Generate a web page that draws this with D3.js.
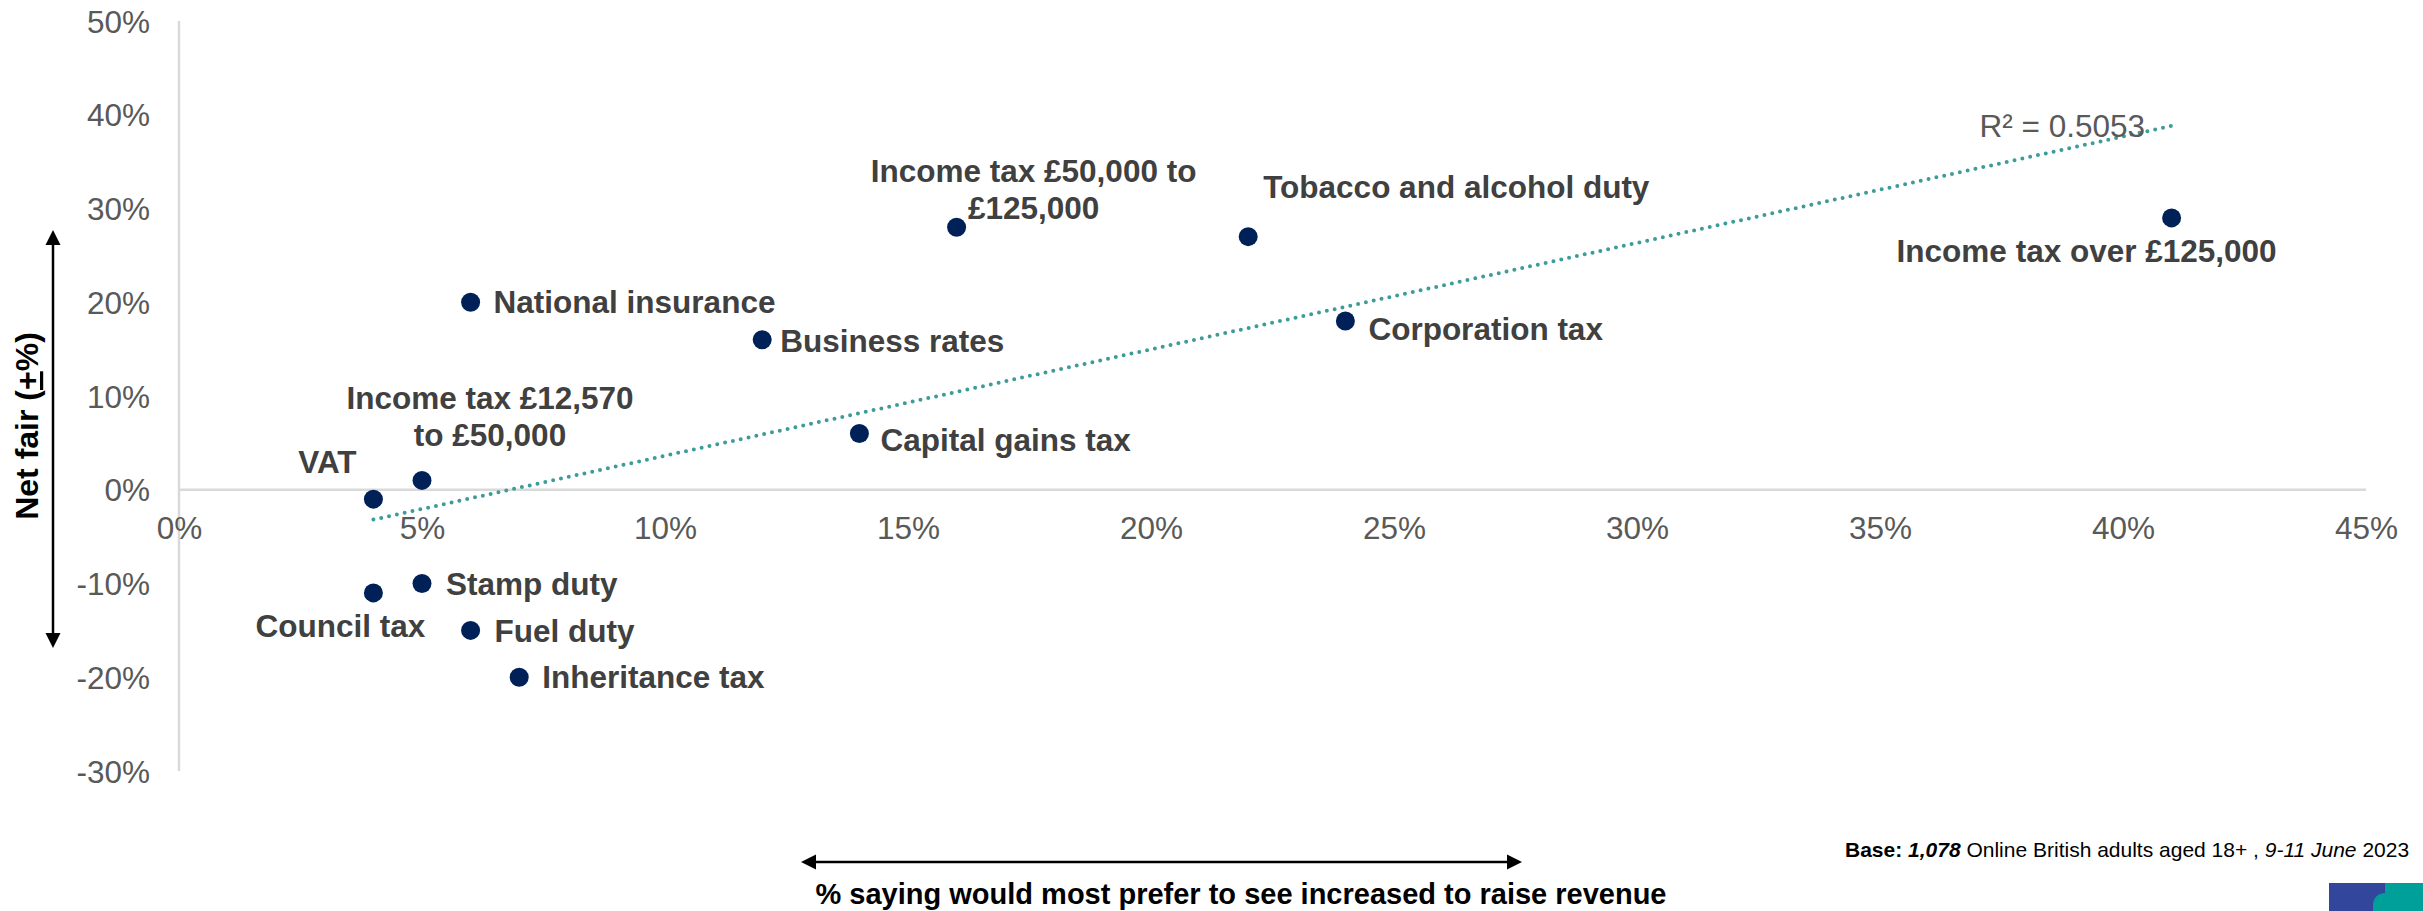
<!DOCTYPE html>
<html>
<head>
<meta charset="utf-8">
<script src="https://cdn.jsdelivr.net/npm/d3@7"></script>
<style>
  html, body { margin: 0; padding: 0; background: #fff; overflow: hidden; }
  svg { display: block; font-family: "Liberation Sans", Arial, sans-serif; }
</style>
</head>
<body>
<svg id="chart" width="2423" height="911"></svg>
<script>
// ---------------- DATA ----------------
const categories = [
  "VAT",
  "Income tax £12,570\nto £50,000",
  "Council tax",
  "Stamp duty",
  "Fuel duty",
  "Inheritance tax",
  "National insurance",
  "Business rates",
  "Capital gains tax",
  "Income tax £50,000 to\n£125,000",
  "Tobacco and alcohol duty",
  "Corporation tax",
  "Income tax over £125,000"
];
// % saying would most prefer to see increased to raise revenue
const preferIncrease = [4, 5, 4, 5, 6, 7, 6, 12, 14, 16, 22, 24, 41];
// Net fair (+/-%)
const netFair = [-1, 1, -11, -10, -15, -20, 20, 16, 6, 28, 27, 18, 29];

const xTickValues = [0, 5, 10, 15, 20, 25, 30, 35, 40, 45];
const yTickValues = [-30, -20, -10, 0, 10, 20, 30, 40, 50];

const xAxisTitle = "% saying would most prefer to see increased to raise revenue";
const baseNote = [
  {t: "Base: ", w: "bold", s: "normal"},
  {t: "1,078", w: "bold", s: "italic"},
  {t: " Online British adults aged 18+ , ", w: "normal", s: "normal"},
  {t: "9-11 June", w: "normal", s: "italic"},
  {t: " 2023", w: "normal", s: "normal"}
];

// label placement (pixel offsets from each point; layout only)
const labelLayout = [
  {anchor: "middle", dx: -46, dy: [-26]},
  {anchor: "middle", dx: 68, dy: [-71, -34]},
  {anchor: "middle", dx: -33, dy: [44]},
  {anchor: "start", dx: 24, dy: [11]},
  {anchor: "start", dx: 24, dy: [12]},
  {anchor: "start", dx: 23, dy: [11]},
  {anchor: "start", dx: 23, dy: [11]},
  {anchor: "start", dx: 18, dy: [12]},
  {anchor: "start", dx: 21, dy: [17]},
  {anchor: "middle", dx: 77, dy: [-45, -8]},
  {anchor: "start", dx: 15, dy: [-39]},
  {anchor: "start", dx: 23, dy: [19]},
  {anchor: "end", dx: 105, dy: [44]}
];

// ---------------- CHART ----------------
const svg = d3.select("#chart");
const x = d3.scaleLinear().domain([0, 45]).range([179, 2366]);
const y = d3.scaleLinear().domain([-30, 50]).range([771, 21]);

const gridColor = "#d9d9d9";
const tickColor = "#595959";
const labelColor = "#404040";
const dotColor = "#002157";
const trendColor = "#3d9c99";

// vertical value axis line
svg.append("line")
  .attr("x1", x(0)).attr("x2", x(0))
  .attr("y1", y(50)).attr("y2", y(-30))
  .attr("stroke", gridColor).attr("stroke-width", 2.5);
// horizontal zero line
svg.append("line")
  .attr("x1", x(0)).attr("x2", x(45))
  .attr("y1", y(0)).attr("y2", y(0))
  .attr("stroke", gridColor).attr("stroke-width", 2.5);

const fmtPct = d => d + "%";

// Y axis
const yAxis = svg.append("g")
  .attr("transform", `translate(${x(0)},0)`)
  .call(d3.axisLeft(y).tickValues(yTickValues).tickSize(0).tickPadding(29).tickFormat(fmtPct));
yAxis.select(".domain").remove();
yAxis.selectAll("text")
  .attr("fill", tickColor)
  .style("font-size", "31.5px")
  .style("font-family", "'Liberation Sans', Arial, sans-serif")
  .attr("dy", "0.35em");

// X axis
const xAxis = svg.append("g")
  .attr("transform", `translate(0,${y(0)})`)
  .call(d3.axisBottom(x).tickValues(xTickValues).tickSize(0).tickPadding(27).tickFormat(fmtPct));
xAxis.select(".domain").remove();
xAxis.selectAll("text")
  .attr("fill", tickColor)
  .style("font-size", "31.5px")
  .style("font-family", "'Liberation Sans', Arial, sans-serif");

// Trendline (least squares)
const pts = preferIncrease.map((v, i) => [v, netFair[i]]);
const mx = d3.mean(pts, d => d[0]);
const my = d3.mean(pts, d => d[1]);
const sxy = d3.sum(pts, d => (d[0] - mx) * (d[1] - my));
const sxx = d3.sum(pts, d => (d[0] - mx) ** 2);
const syy = d3.sum(pts, d => (d[1] - my) ** 2);
const slope = sxy / sxx;
const intercept = my - slope * mx;
const r2 = (sxy * sxy) / (sxx * syy);
const xMin = d3.min(preferIncrease), xMax = d3.max(preferIncrease);

svg.append("line")
  .attr("x1", x(xMin)).attr("y1", y(intercept + slope * xMin))
  .attr("x2", x(xMax)).attr("y2", y(intercept + slope * xMax))
  .attr("stroke", trendColor)
  .attr("stroke-width", 4)
  .attr("stroke-linecap", "round")
  .attr("stroke-dasharray", "0 8");

svg.append("text")
  .attr("x", x(xMax) - 192)
  .attr("y", y(intercept + slope * xMax) + 11)
  .attr("fill", tickColor)
  .style("font-size", "31.5px")
  .text("R² = " + r2.toFixed(4));

// Points
svg.append("g").selectAll("circle")
  .data(pts)
  .join("circle")
  .attr("cx", d => x(d[0]))
  .attr("cy", d => y(d[1]))
  .attr("r", 9.5)
  .attr("fill", dotColor);

// Labels
const lg = svg.append("g")
  .style("font-size", "31.5px")
  .style("font-weight", "bold")
  .attr("fill", labelColor);
categories.forEach((name, i) => {
  const L = labelLayout[i];
  const lines = name.split("\n");
  const t = lg.append("text")
    .attr("text-anchor", L.anchor);
  lines.forEach((ln, k) => {
    t.append("tspan")
      .attr("x", x(preferIncrease[i]) + L.dx)
      .attr("y", y(netFair[i]) + L.dy[k])
      .text(ln);
  });
});

// Y axis title with double arrow
const arrowX = 53, arrowTop = 230, arrowBot = 648, ah = 15, aw = 7.5;
svg.append("line")
  .attr("x1", arrowX).attr("x2", arrowX)
  .attr("y1", arrowTop + ah - 2).attr("y2", arrowBot - ah + 2)
  .attr("stroke", "#000").attr("stroke-width", 2.5);
svg.append("path")
  .attr("d", `M${arrowX},${arrowTop} L${arrowX - aw},${arrowTop + ah} L${arrowX + aw},${arrowTop + ah} Z`)
  .attr("fill", "#000");
svg.append("path")
  .attr("d", `M${arrowX},${arrowBot} L${arrowX - aw},${arrowBot - ah} L${arrowX + aw},${arrowBot - ah} Z`)
  .attr("fill", "#000");

const yt = svg.append("text")
  .attr("transform", "translate(38,426) rotate(-90)")
  .attr("text-anchor", "middle")
  .attr("fill", "#000")
  .style("font-size", "32px")
  .style("font-weight", "bold");
yt.append("tspan").text("Net fair (");
yt.append("tspan").style("text-decoration", "underline").text("+");
yt.append("tspan").text("%)");

// X axis title with double arrow
const axY = 862, axL = 801, axR = 1522;
svg.append("line")
  .attr("x1", axL + ah - 2).attr("x2", axR - ah + 2)
  .attr("y1", axY).attr("y2", axY)
  .attr("stroke", "#000").attr("stroke-width", 2.5);
svg.append("path")
  .attr("d", `M${axL},${axY} L${axL + ah},${axY - aw} L${axL + ah},${axY + aw} Z`)
  .attr("fill", "#000");
svg.append("path")
  .attr("d", `M${axR},${axY} L${axR - ah},${axY - aw} L${axR - ah},${axY + aw} Z`)
  .attr("fill", "#000");
svg.append("text")
  .attr("x", 1241).attr("y", 904)
  .attr("text-anchor", "middle")
  .attr("fill", "#000")
  .style("font-size", "29px")
  .style("font-weight", "bold")
  .text(xAxisTitle);

// Base note
const bt = svg.append("text")
  .attr("x", 1845).attr("y", 857)
  .attr("fill", "#000")
  .style("font-size", "21px")
  .style("white-space", "pre");
baseNote.forEach(p => {
  bt.append("tspan")
    .style("font-weight", p.w)
    .style("font-style", p.s)
    .text(p.t);
});

// Logo (bottom-right)
const logo = svg.append("g");
logo.append("rect").attr("x", 2329).attr("y", 883).attr("width", 56).attr("height", 28).attr("fill", "#32469b");
logo.append("rect").attr("x", 2385).attr("y", 883).attr("width", 38).attr("height", 28).attr("fill", "#00a09a");
logo.append("path")
  .attr("d", "M2385,893 C2378,893 2373,898 2373,905 L2373,911 L2385,911 Z")
  .attr("fill", "#00a09a");
</script>
</body>
</html>
